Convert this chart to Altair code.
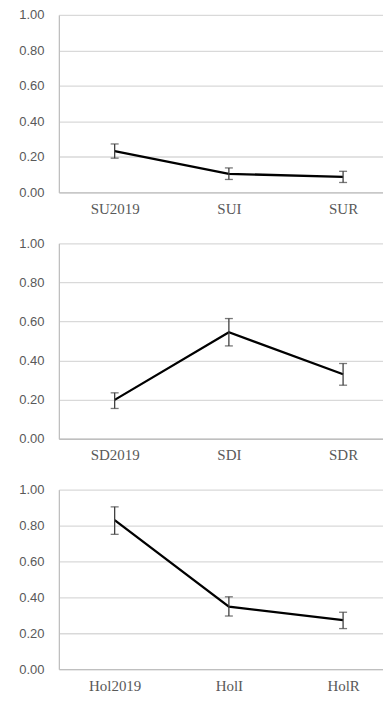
import altair as alt
import pandas as pd

# Panel 1
su_cats = ["SU2019", "SUI", "SUR"]
su_mean = [0.233, 0.105, 0.087]
su_lo = [0.193, 0.073, 0.056]
su_hi = [0.273, 0.138, 0.119]

# Panel 2
sd_cats = ["SD2019", "SDI", "SDR"]
sd_mean = [0.199, 0.545, 0.330]
sd_lo = [0.155, 0.475, 0.274]
sd_hi = [0.235, 0.615, 0.385]

# Panel 3
hol_cats = ["Hol2019", "HolI", "HolR"]
hol_mean = [0.830, 0.348, 0.273]
hol_lo = [0.751, 0.296, 0.226]
hol_hi = [0.904, 0.403, 0.317]

y_ticks = [0.0, 0.2, 0.4, 0.6, 0.8, 1.0]

SERIF = "Liberation Serif"
SANS = "Liberation Sans"

x_axis = alt.Axis(
    labelAngle=0,
    ticks=False,
    domainColor="#bfbfbf",
    domainWidth=1.3,
    labelFont=SERIF,
    labelFontSize=15,
    labelColor="#595959",
    labelPadding=9,
    labelOverlap=False,
    grid=False,
    title=None,
)
y_axis = alt.Axis(
    values=y_ticks,
    format=".2f",
    ticks=False,
    grid=True,
    gridColor="#d9d9d9",
    gridWidth=1.3,
    domainColor="#bfbfbf",
    domainWidth=1.3,
    labelFont=SANS,
    labelFontSize=13,
    labelColor="#595959",
    labelPadding=15,
    labelOverlap=False,
    labelFlush=False,
    title=None,
)


def panel(cats, mean, lo, hi, h):
    df = pd.DataFrame({"cat": cats, "mean": mean, "lo": lo, "hi": hi})
    xs = alt.Scale(type="point", padding=0.419, align=0.583)
    ys = alt.Scale(domain=[0, 1], nice=False)
    base = alt.Chart(df).encode(
        x=alt.X("cat:N", sort=cats, scale=xs, axis=x_axis, title=None)
    )
    line = base.mark_line(color="black", strokeWidth=2.3).encode(
        y=alt.Y("mean:Q", scale=ys, axis=y_axis, title=None)
    )
    rule = base.mark_rule(color="#404040", strokeWidth=1.3).encode(
        y=alt.Y("lo:Q", scale=ys, axis=y_axis, title=None), y2="hi:Q"
    )
    cap_lo = base.mark_tick(color="#404040", thickness=1.3, size=8).encode(
        y=alt.Y("lo:Q", scale=ys, axis=y_axis, title=None)
    )
    cap_hi = base.mark_tick(color="#404040", thickness=1.3, size=8).encode(
        y=alt.Y("hi:Q", scale=ys, axis=y_axis, title=None)
    )
    return alt.layer(line, rule, cap_lo, cap_hi).properties(width=325, height=h)


chart = (
    alt.vconcat(
        panel(su_cats, su_mean, su_lo, su_hi, 178),
        panel(sd_cats, sd_mean, sd_lo, sd_hi, 196),
        panel(hol_cats, hol_mean, hol_lo, hol_hi, 180),
        spacing=51,
        bounds="flush",
    )
    .resolve_scale(x="independent")
    .properties(padding={"left": 10, "top": 0, "right": 0, "bottom": 0})
    .configure(background="white")
    .configure_view(stroke=None)
)

chart.save("out.html", embed_options={"renderer": "svg", "actions": False})
